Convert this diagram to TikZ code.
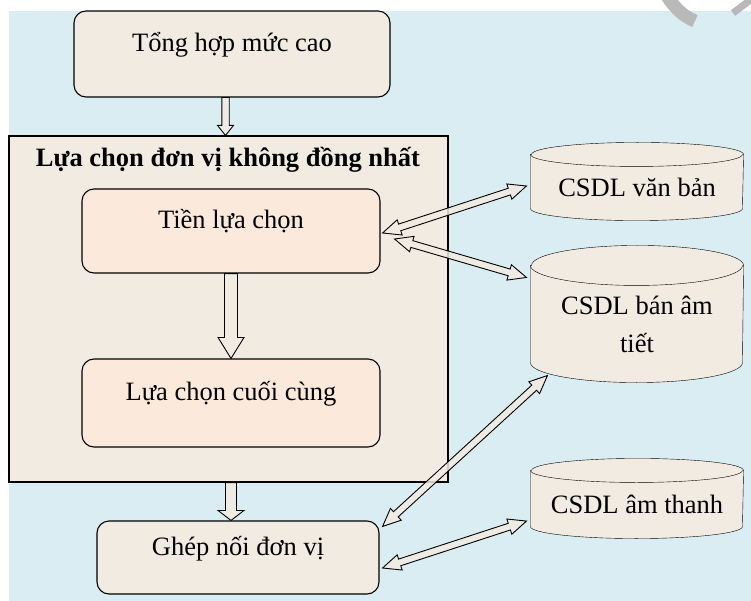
\documentclass[tikz,border=0pt]{standalone}
\usepackage{fontspec}
\setmainfont{Liberation Serif}
\usetikzlibrary{calc,backgrounds}

\definecolor{bgblue}{RGB}{218,237,243}
\definecolor{paper}{RGB}{242,235,226}
\definecolor{peach}{RGB}{251,233,219}

% hollow block arrow from #1 to #2 (shaft #3, head #4, head length #5)
\newcommand{\flowarrow}[5]{%
  \filldraw[blockarrow] ($(#1)!#3!90:(#2)$) -- ($(#2)!#5!(#1)!#3!-90:(#1)$)
    -- ($(#2)!#5!(#1)!#4!-90:(#1)$) -- (#2) -- ($(#2)!#5!(#1)!#4!90:(#1)$)
    -- ($(#2)!#5!(#1)!#3!90:(#1)$) -- ($(#1)!#3!-90:(#2)$) -- cycle;}

% hollow double arrow between #1 and #2
\newcommand{\dblarrow}[2]{%
  \filldraw[blockarrow] (#1) -- ($(#1)!18pt!(#2)!8pt!90:(#2)$)
    -- ($(#1)!18pt!(#2)!3.5pt!90:(#2)$) -- ($(#2)!18pt!(#1)!3.5pt!-90:(#1)$)
    -- ($(#2)!18pt!(#1)!8pt!-90:(#1)$) -- (#2)
    -- ($(#2)!18pt!(#1)!8pt!90:(#1)$) -- ($(#2)!18pt!(#1)!3.5pt!90:(#1)$)
    -- ($(#1)!18pt!(#2)!3.5pt!-90:(#2)$) -- ($(#1)!18pt!(#2)!8pt!-90:(#2)$) -- cycle;}

% database drum behind node #1 (half width #2, rim radius #3)
\newcommand{\dbdrum}[3]{%
  \begin{scope}[on background layer]
    \filldraw[fill=paper] ([yshift=#3]#1.north west) -- (#1.south west)
      arc[start angle=180, end angle=360, x radius=#2, y radius=#3]
      -- ([yshift=#3]#1.north east)
      arc[start angle=0, end angle=180, x radius=#2, y radius=#3] -- cycle;
    \draw ([yshift=#3]#1.north west)
      arc[start angle=180, end angle=360, x radius=#2, y radius=#3];
  \end{scope}}

\begin{document}
\begin{tikzpicture}[x=1pt, y=-1pt, line width=1.1pt,
    every node/.style={font=\fontsize{26.5}{38}\selectfont, inner sep=0pt},
    flowbox/.style={draw, rounded corners=12pt, fill=paper, text height=0.7em, text depth=1.15em},
    blockarrow/.style={draw, fill=paper, fill opacity=0.85, line width=0.9pt, line join=miter}]
    \useasboundingbox (0,0) rectangle (751,601);

    % Background
    \begin{scope}[on background layer]
        \fill[bgblue] (9,11) rectangle (751,601);
    \end{scope}
    \draw[line width=13pt, gray!55] (667,-4) .. controls (676,10) and (685,17) .. (695,21);
    \draw[line width=7pt, gray!55] (733,13) -- (753,-2);

    % Boxes
    \node[flowbox, minimum width=316, minimum height=86] (top) at (232,54) {Tổng hợp mức cao};
    \node[draw, fill=paper, minimum width=439, minimum height=346] (big) at (228.5,309) {};
    \node[font=\fontsize{26.5}{38}\selectfont\bfseries] (title) at (228,160) {Lựa chọn đơn vị không đồng nhất};
    \node[flowbox, fill=peach, minimum width=298, minimum height=84] (pre) at (231,231) {Tiền lựa chọn};
    \node[flowbox, fill=peach, minimum width=298, minimum height=88] (fin) at (231,403) {Lựa chọn cuối cùng};
    \node[flowbox, minimum width=282, minimum height=73] (gn) at (238,557.5) {Ghép nối đơn vị};

    % Databases
    \node[minimum width=212, minimum height=41] (dbtext) at (637,187.5) {CSDL văn bản};
    \node[minimum width=212, minimum height=76, align=center] (dbsyl) at (637,324) {CSDL bán âm\\tiết};
    \node[minimum width=212, minimum height=43] (dbsound) at (637,504.5) {CSDL âm thanh};
    \dbdrum{dbtext}{106pt}{12pt}
    \dbdrum{dbsyl}{106pt}{20pt}
    \dbdrum{dbsound}{106pt}{12pt}

    % Flow arrows
    \coordinate (s1) at ([xshift=-6.5pt]top.south);
    \coordinate (e1) at (s1 |- big.north);
    \coordinate (s3) at (pre.south |- big.south);
    \coordinate (e3) at (pre.south |- gn.north);
    \flowarrow{s1}{e1}{3.7pt}{8pt}{10pt}
    \flowarrow{pre.south}{fin.north}{6.5pt}{13pt}{21pt}
    \flowarrow{s3}{e3}{5.5pt}{13pt}{10pt}

    % Database links
    \coordinate (p1) at ([shift={(2,2)}]pre.east);
    \coordinate (v1) at ([shift={(-4,-1.5)}]dbtext.west);
    \coordinate (p2) at ([shift={(14,8)}]pre.east);
    \coordinate (b1) at ([shift={(-4,-8)}]dbsyl.north west);
    \coordinate (g1) at ([shift={(3,6)}]gn.north east);
    \coordinate (b2) at ([shift={(17,13)}]dbsyl.south west);
    \coordinate (g2) at ([shift={(3,10.5)}]gn.east);
    \coordinate (a1) at ([shift={(-4,-5.5)}]dbsound.south west);
    \foreach \a/\b in {p1/v1, p2/b1, g1/b2, g2/a1} {
        \dblarrow{\a}{\b}
    }
\end{tikzpicture}
\end{document}
